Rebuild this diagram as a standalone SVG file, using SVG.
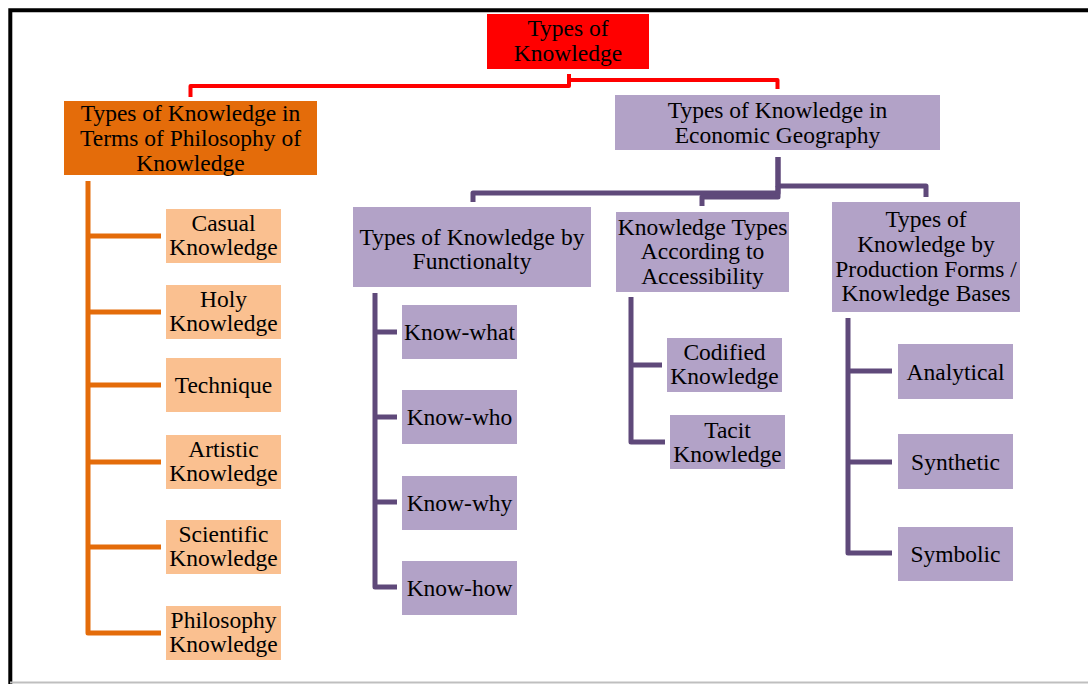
<svg xmlns="http://www.w3.org/2000/svg" width="1088" height="684" viewBox="0 0 1088 684">
<style>
text{font-family:"Liberation Serif","Times New Roman",serif;font-size:23.5px;fill:#000;text-anchor:middle}
.red{fill:#FF0000}
.org{fill:#E46C0A}
.lorg{fill:#FAC090}
.pur{fill:#B2A2C7}
.cr{fill:none;stroke:#FF0000;stroke-width:4;stroke-linejoin:round}
.co{fill:none;stroke:#E46C0A;stroke-width:5;stroke-linejoin:round}
.cp{fill:none;stroke:#5F497A;stroke-width:5;stroke-linejoin:round}
</style>
<rect width="1088" height="684" fill="#fff"/>
<path d="M10.3,684 V10.3 H1088" fill="none" stroke="#000" stroke-width="4"/>
<line x1="10" y1="682.5" x2="1088" y2="682.5" stroke="#BFBFBF" stroke-width="2"/>
<g id="connectors">
<path class="cr" d="M569,74 V86 H190.5 V97"/>
<path class="cr" d="M569,80 H777.5 V89"/>
<path class="co" d="M88,181 V633 H161"/>
<path class="co" d="M88,236 H161 M88,312 H161 M88,385 H161 M88,462 H161 M88,547 H161"/>
<path class="cp" d="M778,157 V186 H926 V197"/>
<path class="cp" d="M778,157 V193 H473 V202"/>
<path class="cp" d="M778,186 V197 H702 V206"/>
<path class="cp" d="M375,293 V587 H397 M375,332 H397 M375,417 H397 M375,502 H397"/>
<path class="cp" d="M631,297 V442 H665 M631,365 H662"/>
<path class="cp" d="M848,318 V553 H892 M848,371 H892 M848,462 H892"/>
</g>
<g id="root"><rect class="red" x="487" y="14" width="162" height="55"/><text x="568" y="36">Types of</text><text x="568" y="61">Knowledge</text></g>
<g id="philosophy"><rect class="org" x="64" y="101" width="253" height="74"/><text x="190.5" y="121">Types of Knowledge in</text><text x="190.5" y="146">Terms of Philosophy of</text><text x="190.5" y="171">Knowledge</text></g>
<g id="casual"><rect class="lorg" x="166" y="209" width="115" height="54"/><text x="223.5" y="231">Casual</text><text x="223.5" y="255">Knowledge</text></g>
<g id="holy"><rect class="lorg" x="166" y="285" width="115" height="54"/><text x="223.5" y="307">Holy</text><text x="223.5" y="331">Knowledge</text></g>
<g id="technique"><rect class="lorg" x="166" y="358" width="115" height="54"/><text x="223.5" y="393">Technique</text></g>
<g id="artistic"><rect class="lorg" x="166" y="435" width="115" height="54"/><text x="223.5" y="457">Artistic</text><text x="223.5" y="481">Knowledge</text></g>
<g id="scientific"><rect class="lorg" x="166" y="520" width="115" height="54"/><text x="223.5" y="542">Scientific</text><text x="223.5" y="566">Knowledge</text></g>
<g id="philosophyk"><rect class="lorg" x="166" y="606" width="115" height="54"/><text x="223.5" y="628">Philosophy</text><text x="223.5" y="652">Knowledge</text></g>
<g id="economic"><rect class="pur" x="615" y="95" width="325" height="55"/><text x="777.5" y="118">Types of Knowledge in</text><text x="777.5" y="143">Economic Geography</text></g>
<g id="functionality"><rect class="pur" x="353" y="207" width="238" height="80"/><text x="472" y="245">Types of Knowledge by</text><text x="472" y="269">Functionalty</text></g>
<g id="accessibility"><rect class="pur" x="616" y="212" width="173" height="80"/><text x="702.5" y="235">Knowledge Types</text><text x="702.5" y="259">According to</text><text x="702.5" y="284">Accessibility</text></g>
<g id="production"><rect class="pur" x="832" y="202" width="188" height="110"/><text x="926" y="227">Types of</text><text x="926" y="252">Knowledge by</text><text x="926" y="277">Production Forms /</text><text x="926" y="301">Knowledge Bases</text></g>
<g id="knowwhat"><rect class="pur" x="402" y="305" width="115" height="54"/><text x="459.5" y="340">Know-what</text></g>
<g id="knowwho"><rect class="pur" x="402" y="390" width="115" height="54"/><text x="459.5" y="425">Know-who</text></g>
<g id="knowwhy"><rect class="pur" x="402" y="476" width="115" height="54"/><text x="459.5" y="511">Know-why</text></g>
<g id="knowhow"><rect class="pur" x="402" y="561" width="115" height="54"/><text x="459.5" y="596">Know-how</text></g>
<g id="codified"><rect class="pur" x="667" y="338" width="115" height="54"/><text x="724.5" y="360">Codified</text><text x="724.5" y="384">Knowledge</text></g>
<g id="tacit"><rect class="pur" x="670" y="415" width="115" height="54"/><text x="727.5" y="438">Tacit</text><text x="727.5" y="462">Knowledge</text></g>
<g id="analytical"><rect class="pur" x="898" y="344" width="115" height="55"/><text x="955.5" y="380">Analytical</text></g>
<g id="synthetic"><rect class="pur" x="898" y="434" width="115" height="55"/><text x="955.5" y="470">Synthetic</text></g>
<g id="symbolic"><rect class="pur" x="898" y="527" width="115" height="54"/><text x="955.5" y="562">Symbolic</text></g>
</svg>
